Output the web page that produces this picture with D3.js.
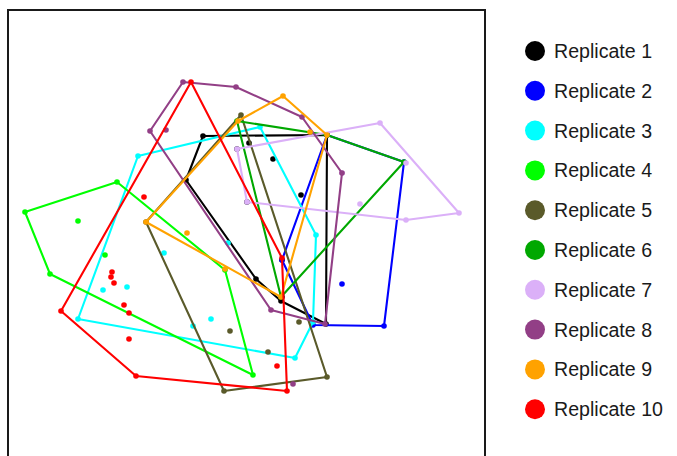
<!DOCTYPE html>
<html>
<head>
<meta charset="utf-8">
<script src="https://cdn.jsdelivr.net/npm/d3@7"></script>
<style>
  html, body { margin: 0; padding: 0; background: #fff; }
  svg { display: block; }
</style>
</head>
<body>
<svg id="chart" width="677" height="456"></svg>
<script>
// Ordination scores (NMDS1, NMDS2) for each replicate.
// hullN: convex hull vertices in drawing order; ptsN: remaining samples.
const hull1 = [[-0.47, 1.14], [0.77, 1.15], [0.76, -0.74], [0.31, -0.51], [0.06, -0.29], [-0.64, 0.70]];
const pts1  = [[-0.13, 1.01], [-0.01, 1.07], [0.23, 0.91], [-0.03, 0.48], [0.51, 0.55], [0.32, -0.10], [0.32, -0.47]];

const hull2 = [[0.77, 1.15], [1.54, 0.88], [1.34, -0.76], [0.63, -0.75], [0.32, -0.10]];
const pts2  = [[0.92, -0.34]];

const hull3 = [[-1.12, 0.94], [0.10, 1.23], [0.66, 0.15], [0.63, -0.72], [0.45, -1.08], [-1.72, -0.69]];
const pts3  = [[-1.47, -0.40], [-1.23, -0.37], [-0.86, -0.03], [-0.57, -0.76], [-0.39, -0.69], [-0.22, 0.07]];

const hull4 = [[-2.25, 0.38], [-1.33, 0.68], [-0.25, -0.20], [0.03, -1.25], [-2.00, -0.24]];
const pts4  = [[-1.72, 0.29], [-1.45, -0.05]];

const hull5 = [[-0.09, 1.35], [-1.04, 0.28], [-0.26, -1.41], [0.77, -1.27]];
const pts5  = [[-0.20, -0.81], [0.49, -0.72], [0.18, -1.02]];

const hull6 = [[-0.13, 1.29], [0.77, 1.15], [1.54, 0.88], [0.31, -0.47]];
const pts6  = [];

const hull7 = [[-0.13, 1.01], [1.30, 1.27], [2.09, 0.37], [1.56, 0.30], [-0.03, 0.48]];
const pts7  = [[1.10, 0.46], [1.56, 0.87], [0.92, 0.77]];

const hull8 = [[-0.67, 1.68], [-0.14, 1.63], [0.52, 1.33], [0.92, 0.77], [0.75, -0.74], [0.21, -0.60], [-1.00, 1.19]];
const pts8  = [[-0.84, 1.20], [0.43, -1.34]];

const hull9 = [[-1.04, 0.28], [-0.12, 1.29], [0.33, 1.54], [0.77, 1.15], [0.31, -0.47]];
const pts9  = [[-0.63, 0.17], [-0.25, -0.19], [0.60, 1.18]];

const hull10 = [[-0.59, 1.68], [0.32, -0.08], [0.37, -1.41], [-1.14, -1.26], [-1.89, -0.61]];
const pts10  = [[-1.06, 0.53], [-1.38, -0.22], [-1.39, -0.27], [-1.36, -0.33], [-1.26, -0.55],
                [-1.21, -0.63], [-1.21, -0.89], [0.27, -1.16]];

const replicateNames = ["Replicate 1", "Replicate 2", "Replicate 3", "Replicate 4", "Replicate 5",
                        "Replicate 6", "Replicate 7", "Replicate 8", "Replicate 9", "Replicate 10"];
const replicateColors = ["#000000", "#0000ff", "#00ffff", "#00ff00", "#5a5a2a",
                         "#00a800", "#dbb0f8", "#923f86", "#ffa200", "#ff0000"];

const hulls = [hull1, hull2, hull3, hull4, hull5, hull6, hull7, hull8, hull9, hull10];
const others = [pts1, pts2, pts3, pts4, pts5, pts6, pts7, pts8, pts9, pts10];

const svg = d3.select("#chart");

// Plot panel
const panel = { left: 8, right: 485, top: 10, bottom: 490 };
const x = d3.scaleLinear().domain([-2.42, 2.35]).range([panel.left, panel.right]);
const y = d3.scaleLinear().domain([2.40, -2.40]).range([panel.top, panel.bottom]);

const line = d3.line().x(d => x(d[0])).y(d => y(d[1])).curve(d3.curveLinearClosed);

const g = svg.append("g");

replicateNames.forEach((name, i) => {
  const col = replicateColors[i];
  const grp = g.append("g").attr("class", "replicate");
  grp.append("path")
    .attr("d", line(hulls[i]))
    .attr("fill", "none")
    .attr("stroke", col)
    .attr("stroke-width", 2.1)
    .attr("stroke-linejoin", "round");
  grp.selectAll("circle")
    .data(hulls[i].concat(others[i]))
    .join("circle")
    .attr("cx", d => x(d[0]))
    .attr("cy", d => y(d[1]))
    .attr("r", 2.8)
    .attr("fill", col);
});

// Panel border
svg.append("rect")
  .attr("x", panel.left)
  .attr("y", panel.top)
  .attr("width", panel.right - panel.left)
  .attr("height", panel.bottom - panel.top)
  .attr("fill", "none")
  .attr("stroke", "#1a1a1a")
  .attr("stroke-width", 2);

// Legend
const legend = svg.append("g").attr("transform", "translate(535,51)");
const item = legend.selectAll("g")
  .data(replicateNames)
  .join("g")
  .attr("transform", (d, i) => `translate(0,${i * 39.8})`);
item.append("circle")
  .attr("r", 10)
  .attr("fill", (d, i) => replicateColors[i]);
item.append("text")
  .attr("x", 19)
  .attr("y", 0)
  .attr("dy", "0.36em")
  .attr("font-family", "Liberation Sans, Arial, sans-serif")
  .attr("font-size", 19.6)
  .attr("fill", "#1a1a1a")
  .text(d => d);
</script>
</body>
</html>
